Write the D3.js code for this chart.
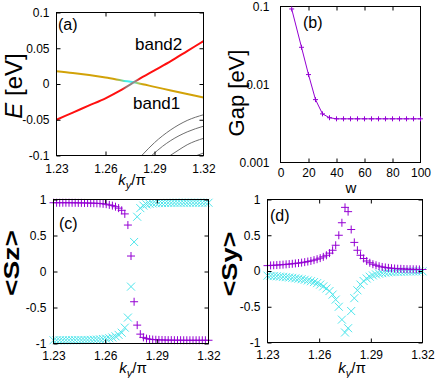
<!DOCTYPE html>
<html>
<head>
<meta charset="utf-8">
<script src="https://cdnjs.cloudflare.com/ajax/libs/d3/7.8.5/d3.min.js"></script>
<style>
  body { margin: 0; background: #fff; }
  svg { display: block; font-family: "Liberation Sans", Arial, sans-serif; }
  .tick text { font-size: 12px; fill: #000; }
  .tick line { stroke: #000; }
</style>
</head>
<body>
<svg id="chart" width="436" height="378"></svg>
<script>
// ---------- panel (a): bands ----------
var bandK = [1.23, 1.24, 1.25, 1.26, 1.27, 1.28, 1.29, 1.30, 1.31, 1.32];
var band2 = [-0.050, -0.040, -0.030, -0.020, -0.008, 0.006, 0.019, 0.032, 0.046, 0.060];
var band1 = [0.018, 0.0155, 0.0125, 0.009, 0.005, 0.001, -0.004, -0.009, -0.014, -0.019];
// lower bands (gray), each a list of [k, E]
var lowBands = [
  [[1.2822, -0.100], [1.29, -0.082], [1.30, -0.064], [1.31, -0.051], [1.32, -0.043]],
  [[1.2883, -0.100], [1.295, -0.087], [1.30, -0.079], [1.31, -0.067], [1.32, -0.059]],
  [[1.2996, -0.100], [1.305, -0.092], [1.31, -0.085], [1.32, -0.076]],
  [[1.3159, -0.100], [1.32, -0.0965]]
];

// ---------- panel (b): gap vs w ----------
var gapW = [8, 15, 20, 25, 30, 35, 40, 45, 50, 55, 60, 65, 70, 75, 80, 85, 90, 95, 100];
var gapE = [0.093, 0.030, 0.0134, 0.0064, 0.0042, 0.00375, 0.00363, 0.00363, 0.00363, 0.00363,
            0.00363, 0.00363, 0.00363, 0.00363, 0.00363, 0.00363, 0.00363, 0.00363, 0.00363];

// ---------- panels (c),(d): spin expectation ----------
var ky = [1.2300, 1.2318, 1.2336, 1.2354, 1.2372, 1.2390, 1.2408, 1.2426, 1.2444, 1.2462,
          1.2480, 1.2498, 1.2516, 1.2534, 1.2552, 1.2570, 1.2588, 1.2606, 1.2624, 1.2642,
          1.2660, 1.2678, 1.2696, 1.2714, 1.2732, 1.2750, 1.2768, 1.2786, 1.2804, 1.2822,
          1.2840, 1.2858, 1.2876, 1.2894, 1.2912, 1.2930, 1.2948, 1.2966, 1.2984, 1.3002,
          1.3020, 1.3038, 1.3056, 1.3074, 1.3092, 1.3110, 1.3128, 1.3146, 1.3164, 1.3182, 1.3200];
var sz1 = [0.955, 0.955, 0.955, 0.955, 0.955, 0.955, 0.954, 0.954, 0.953, 0.953,
           0.952, 0.951, 0.950, 0.949, 0.947, 0.945, 0.940, 0.935, 0.925, 0.915,
           0.900, 0.880, 0.850, 0.800, 0.645, 0.215, -0.420, -0.745, -0.870, -0.915,
           -0.932, -0.940, -0.945, -0.948, -0.950, -0.951, -0.952, -0.953, -0.953, -0.954,
           -0.954, -0.954, -0.955, -0.955, -0.955, -0.955, -0.955, -0.955, -0.955, -0.955, -0.955];
var sz2 = [-0.955, -0.955, -0.955, -0.955, -0.955, -0.955, -0.954, -0.954, -0.953, -0.953,
           -0.952, -0.951, -0.950, -0.948, -0.946, -0.943, -0.939, -0.934, -0.927, -0.917,
           -0.900, -0.880, -0.850, -0.780, -0.640, -0.210, 0.410, 0.760, 0.880, 0.915,
           0.932, 0.940, 0.945, 0.948, 0.950, 0.951, 0.952, 0.953, 0.953, 0.954,
           0.954, 0.954, 0.955, 0.955, 0.955, 0.955, 0.955, 0.955, 0.955, 0.955, 0.955];
var sy1 = [0.075, 0.078, 0.080, 0.083, 0.086, 0.089, 0.093, 0.097, 0.101, 0.106,
           0.111, 0.117, 0.124, 0.132, 0.141, 0.152, 0.165, 0.180, 0.198, 0.220,
           0.250, 0.290, 0.360, 0.500, 0.675, 0.890, 0.830, 0.580, 0.400, 0.290,
           0.220, 0.175, 0.140, 0.115, 0.095, 0.080, 0.067, 0.057, 0.050, 0.044,
           0.039, 0.035, 0.032, 0.030, 0.028, 0.026, 0.025, 0.024, 0.023, 0.022, 0.021];
var sy2 = [-0.065, -0.068, -0.071, -0.074, -0.078, -0.082, -0.086, -0.091, -0.096, -0.102,
           -0.108, -0.115, -0.123, -0.132, -0.143, -0.155, -0.170, -0.190, -0.215, -0.245,
           -0.280, -0.330, -0.400, -0.500, -0.680, -0.860, -0.800, -0.560, -0.380, -0.270,
           -0.190, -0.140, -0.105, -0.080, -0.062, -0.048, -0.038, -0.030, -0.024, -0.019,
           -0.016, -0.013, -0.011, -0.010, -0.009, -0.008, -0.007, -0.006, -0.006, -0.005, -0.005];

var kTicks = [1.23, 1.26, 1.29, 1.32];
var PURPLE = "#9400d3", CYAN = "#4fe6ec", RED = "#ff1010", GOLD = "#d2a208";

var svg = d3.select("#chart");

// draws frame, mirrored inward ticks and tick labels
function frame(x, y, o) {
  var g = svg.append("g");
  var x0 = x.range()[0], x1 = x.range()[1], y0 = y.range()[1], y1 = y.range()[0];
  var fmt = o.yFormat || (function(d) { return d; });

  g.append("g").attr("transform", "translate(0," + y1 + ")")
    .call(d3.axisBottom(x).tickValues(o.xTicks).tickSizeInner(-4).tickSizeOuter(0)
      .tickPadding(o.xPad).tickFormat(o.xFormat || (function(d) { return d; })));
  g.append("g").attr("transform", "translate(0," + y0 + ")")
    .call(d3.axisTop(x).tickValues(o.xTicks).tickSizeInner(-4).tickSizeOuter(0).tickFormat(""));
  g.append("g").attr("transform", "translate(" + x0 + ",0)")
    .call(d3.axisLeft(y).tickValues(o.yTicks).tickSizeInner(-4).tickSizeOuter(0)
      .tickPadding(o.yPad).tickFormat(fmt));
  g.append("g").attr("transform", "translate(" + x1 + ",0)")
    .call(d3.axisRight(y).tickValues(o.yTicks).tickSizeInner(-4).tickSizeOuter(0).tickFormat(""));
  if (o.yMinor) {
    g.append("g").attr("transform", "translate(" + x0 + ",0)")
      .call(d3.axisLeft(y).tickValues(o.yMinor).tickSizeInner(-2).tickSizeOuter(0).tickFormat(""));
    g.append("g").attr("transform", "translate(" + x1 + ",0)")
      .call(d3.axisRight(y).tickValues(o.yMinor).tickSizeInner(-2).tickSizeOuter(0).tickFormat(""));
  }
  g.selectAll(".domain").remove();
  g.selectAll(".tick text").attr("font-family", null).attr("font-size", null);
  g.selectAll(".tick line").attr("stroke", "#000");
  g.selectAll(".tick").filter(function(d) {
    return Math.abs(x(d) - x0) < 0.5 || Math.abs(x(d) - x1) < 0.5;
  }).select("line").remove();

  g.append("rect").attr("x", x0).attr("y", y0)
    .attr("width", x1 - x0).attr("height", y1 - y0)
    .attr("fill", "none").attr("stroke", "#000").attr("stroke-width", 1);
  return g;
}

function kLabel(cx, by) {
  var t = svg.append("text").attr("x", cx).attr("y", by)
    .attr("text-anchor", "middle").attr("font-size", 15);
  t.append("tspan").attr("font-style", "italic").text("k");
  t.append("tspan").attr("font-style", "italic").attr("font-size", 11).attr("dy", 4).text("y");
  t.append("tspan").attr("dy", -4).text("/\u03c0");
}

function yLabel(cx, cy, size, weight, len) {
  var t = svg.append("text")
    .attr("transform", "translate(" + cx + "," + cy + ") rotate(-90)")
    .attr("text-anchor", "middle").attr("dy", "0.35em")
    .attr("font-size", size).attr("font-weight", weight);
  if (len) t.attr("textLength", len).attr("lengthAdjust", "spacingAndGlyphs");
  return t;
}

function panelTag(x, y, s) {
  svg.append("text").attr("x", x).attr("y", y).attr("font-size", 16).text(s);
}

function markers(g, xs, ys, x, y, shape, color, r) {
  var p = shape === "+" ? "M" + (-r) + ",0H" + r + "M0," + (-r) + "V" + r
                        : "M" + (-r) + "," + (-r) + "L" + r + "," + r + "M" + (-r) + "," + r + "L" + r + "," + (-r);
  g.selectAll(null).data(xs).enter().append("path")
    .attr("transform", function(d, i) { return "translate(" + x(d) + "," + y(ys[i]) + ")"; })
    .attr("d", p).attr("fill", "none").attr("stroke", color).attr("stroke-width", 1);
}

// ================= (a) =================
(function() {
  var x = d3.scaleLinear().domain([1.23, 1.32]).range([56.5, 203.5]);
  var y = d3.scaleLinear().domain([-0.1, 0.1]).range([155.5, 12.5]);
  var defs = svg.append("defs");
  var cp = defs.append("clipPath").attr("id", "clipA");
  cp.append("rect").attr("x", 56.5).attr("y", 12.5).attr("width", 147).attr("height", 143);

  var gGold = defs.append("linearGradient").attr("id", "gGold")
    .attr("gradientUnits", "userSpaceOnUse")
    .attr("x1", x(1.23)).attr("x2", x(1.32)).attr("y1", 0).attr("y2", 0);
  [[1.23, GOLD], [1.266, GOLD], [1.270, "#7fd08a"], [1.2725, "#40f0f0"], [1.277, "#40f0f0"],
   [1.2795, "#9ccf70"], [1.283, GOLD], [1.32, GOLD]].forEach(function(s) {
    gGold.append("stop").attr("offset", (s[0] - 1.23) / 0.09).attr("stop-color", s[1]);
  });
  var gRed = defs.append("linearGradient").attr("id", "gRed")
    .attr("gradientUnits", "userSpaceOnUse")
    .attr("x1", x(1.23)).attr("x2", x(1.32)).attr("y1", 0).attr("y2", 0);
  [[1.23, RED], [1.270, RED], [1.273, "#a07070"], [1.278, "#909090"], [1.281, RED], [1.32, RED]]
    .forEach(function(s) {
      gRed.append("stop").attr("offset", (s[0] - 1.23) / 0.09).attr("stop-color", s[1]);
    });

  var plot = svg.append("g").attr("clip-path", "url(#clipA)");
  var line = d3.line().curve(d3.curveMonotoneX)
    .x(function(d) { return x(d[0]); }).y(function(d) { return y(d[1]); });

  plot.selectAll(".low").data(lowBands).enter().append("path")
    .attr("d", line).attr("fill", "none").attr("stroke", "#6e6e6e").attr("stroke-width", 1);
  plot.append("path").datum(d3.zip(bandK, band1)).attr("d", line)
    .attr("fill", "none").attr("stroke", "url(#gGold)").attr("stroke-width", 2);
  plot.append("path").datum(d3.zip(bandK, band2)).attr("d", line)
    .attr("fill", "none").attr("stroke", "url(#gRed)").attr("stroke-width", 2);

  frame(x, y, {
    xTicks: kTicks, yTicks: [-0.1, -0.05, 0, 0.05, 0.1], xPad: 9, yPad: 7
  });
  svg.append("text").attr("x", 135).attr("y", 50).attr("font-size", 17).text("band2");
  svg.append("text").attr("x", 133).attr("y", 109).attr("font-size", 17).text("band1");
  panelTag(58, 30, "(a)");
  kLabel(132, 185);
  var t = yLabel(14, 86, 24, "normal");
  t.append("tspan").attr("font-style", "italic").text("E");
  t.append("tspan").text(" [eV]");
})();

// ================= (b) =================
(function() {
  var x = d3.scaleLinear().domain([0, 100]).range([280.5, 420.5]);
  var y = d3.scaleLog().domain([0.001, 0.1]).range([162.5, 6.5]);
  var minor = [];
  [0.001, 0.01].forEach(function(b) {
    for (var m = 2; m <= 9; m++) minor.push(b * m);
  });
  frame(x, y, {
    xTicks: [0, 20, 40, 60, 80, 100], yTicks: [0.001, 0.01, 0.1], yMinor: minor,
    xPad: 6, yPad: 11, yFormat: function(d) { return d === 0.1 ? "0.1" : d === 0.01 ? "0.01" : "0.001"; }
  });
  var g = svg.append("g");
  g.append("path").datum(d3.zip(gapW, gapE))
    .attr("d", d3.line().x(function(d) { return x(d[0]); }).y(function(d) { return y(d[1]); }))
    .attr("fill", "none").attr("stroke", PURPLE).attr("stroke-width", 1);
  markers(g, gapW, gapE, x, y, "+", PURPLE, 2.5);
  panelTag(303, 28, "(b)");
  svg.append("text").attr("x", 351).attr("y", 193).attr("text-anchor", "middle")
    .attr("font-size", 15).text("w");
  yLabel(236, 93, 22, "normal").text("Gap [eV]");
})();

// ================= (c) =================
(function() {
  var x = d3.scaleLinear().domain([1.23, 1.32]).range([53.5, 208.5]);
  var y = d3.scaleLinear().domain([-1, 1]).range([343.5, 199.5]);
  var g = svg.append("g");
  markers(g, ky, sz2, x, y, "x", CYAN, 4);
  markers(g, ky, sz1, x, y, "+", PURPLE, 4);
  frame(x, y, {
    xTicks: kTicks, yTicks: [-1, -0.5, 0, 0.5, 1], xPad: 8, yPad: 7
  });
  panelTag(59, 229, "(c)");
  kLabel(133, 373);
  yLabel(11, 263, 22, "bold", 66).text("<Sz>");
})();

// ================= (d) =================
(function() {
  var x = d3.scaleLinear().domain([1.23, 1.32]).range([267.5, 422.5]);
  var y = d3.scaleLinear().domain([-1, 1]).range([342.5, 199.5]);
  var g = svg.append("g");
  markers(g, ky, sy2, x, y, "x", CYAN, 4);
  markers(g, ky, sy1, x, y, "+", PURPLE, 4);
  frame(x, y, {
    xTicks: kTicks, yTicks: [-1, -0.5, 0, 0.5, 1], xPad: 8, yPad: 7
  });
  panelTag(270, 221, "(d)");
  kLabel(352, 373);
  yLabel(229, 264, 22, "bold", 65).text("<Sy>");
})();
</script>
</body>
</html>
